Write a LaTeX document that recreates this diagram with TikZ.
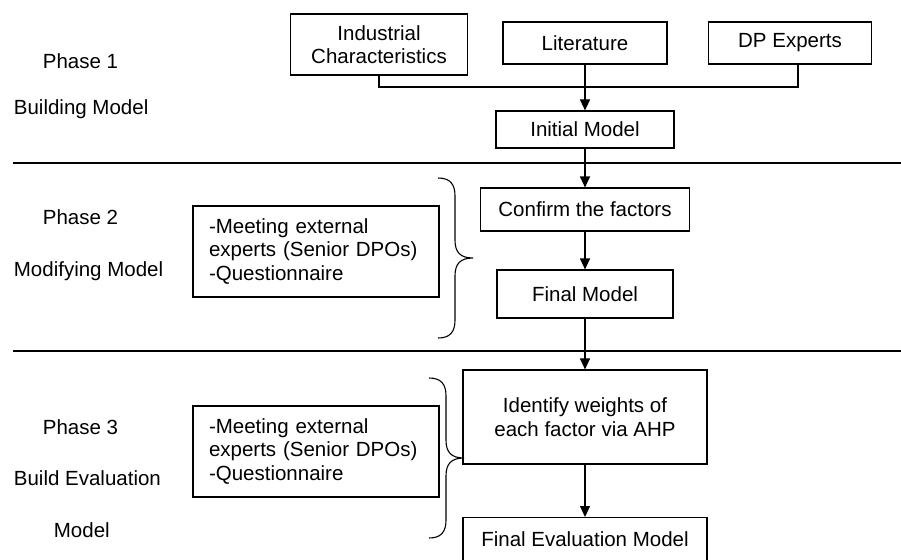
\documentclass[tikz,border=0pt]{standalone}
\usepackage{fontspec}
\setmainfont{Liberation Sans}
\usetikzlibrary{arrows.meta}

\begin{document}
\begin{tikzpicture}[x=1pt, y=-1pt, font=\fontsize{20.5}{23.5}\selectfont,
    line width=1.1pt]
    \tikzset{BoxStyle/.style={draw, inner sep=0pt, align=center}}
    \tikzset{NoteStyle/.style={draw, inner xsep=16pt, inner ysep=0pt,
        text width=214pt, minimum width=246pt, minimum height=91pt, align=left}}
    \tikzset{FlowStyle/.style={-{Triangle[length=11pt, width=10pt]}}}
    \tikzset{sidebrace/.pic={
        \draw (0,0) .. controls (12,0) and (17,6) .. (17,18) -- (17,62)
            .. controls (17,74) and (22,80) .. (35,80)
            .. controls (22,80) and (17,86) .. (17,98) -- (17,142)
            .. controls (17,154) and (12,160) .. (0,160);}}
    \useasboundingbox (0,0) rectangle (901,559);
    \clip (0,0) rectangle (901,559);

    % phase labels
    \node[anchor=west] (p1)  at (39,61)  {Phase 1};
    \node[anchor=west] (p1b) at (10,109) {Building Model};
    \node[anchor=west] (p2)  at (39,217) {Phase 2};
    \node[anchor=west] (p2b) at (10,271) {Modifying Model};
    \node[anchor=west] (p3)  at (39,427) {Phase 3};
    \node[anchor=west] (p3b) at (10,478) {Build Evaluation};
    \node[anchor=west] (p3c) at (50,530) {Model};

    % phase separators
    \coordinate (s1a) at (13,163);  \coordinate (s1b) at (901,163);
    \coordinate (s2a) at (13,351);  \coordinate (s2b) at (901,351);
    \draw (s1a) -- (s1b);
    \draw (s2a) -- (s2b);

    % sources
    \node[BoxStyle, minimum width=177pt, minimum height=61pt] (ind) at (379,44.5)
        {Industrial\\Characteristics};
    \node[BoxStyle, minimum width=164pt, minimum height=42pt] (lit) at (585,43) {Literature};
    \node[BoxStyle, minimum width=163pt, minimum height=42pt] (dpe) at (790,43) {DP Experts};

    % main flow
    \node[BoxStyle, minimum width=178pt, minimum height=37pt] (init) at (585,129.5) {Initial Model};
    \node[BoxStyle, minimum width=209pt, minimum height=43pt] (conf) at (585,209.5) {Confirm the factors};
    \node[BoxStyle, minimum width=176pt, minimum height=48pt] (finm) at (585,294) {Final Model};
    \node[BoxStyle, minimum width=244pt, minimum height=94pt] (ident) at (585,417)
        {Identify weights of\\each factor via AHP};
    \node[BoxStyle, minimum width=244pt, minimum height=44pt, anchor=north] (feval) at (585,517)
        {Final Evaluation Model};

    % side notes
    \node[NoteStyle] (meet1) at (316,251.5)
        {-Meeting external\\experts (Senior DPOs)\\-Questionnaire};
    \node[NoteStyle] (meet2) at (316,451.5)
        {-Meeting external\\experts (Senior DPOs)\\-Questionnaire};
    \pic at (438,178) {sidebrace};
    \pic at (429,378) {sidebrace};

    % connectors
    \coordinate (jn) at (585,87);
    \draw (ind.south) |- ([xshift=8pt]dpe.south |- jn) -- ([xshift=8pt]dpe.south);
    \draw[FlowStyle] (lit.south) -- (init.north);
    \draw[FlowStyle] (init.south) -- (conf.north);
    \draw[FlowStyle] (conf.south) -- (finm.north);
    \draw[FlowStyle] (finm.south) -- (ident.north);
    \draw[FlowStyle] (ident.south) -- (feval.north);
\end{tikzpicture}
\end{document}
